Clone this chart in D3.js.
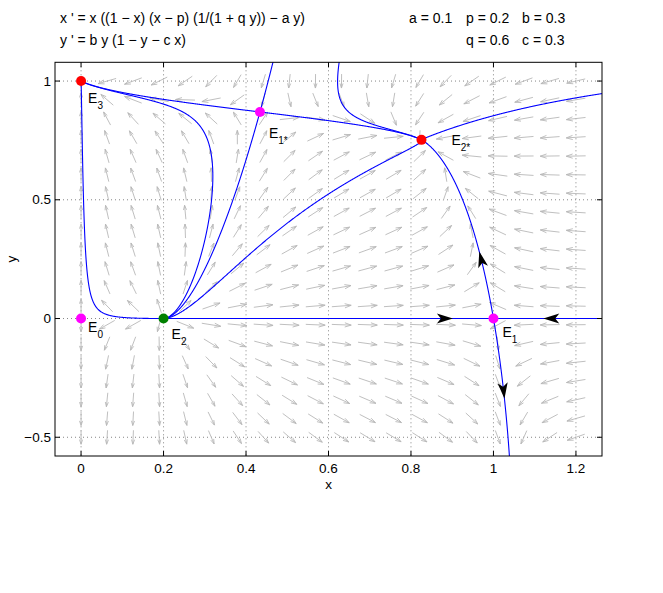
<!DOCTYPE html>
<html><head><meta charset="utf-8">
<script src="https://cdn.jsdelivr.net/npm/d3@7"></script>
<style>
body{margin:0;background:#fff;}
svg{display:block;}
text{font-family:"Liberation Sans",Arial,Helvetica,sans-serif;fill:#000;}
</style>
</head><body>
<svg id="chart" width="663" height="593"></svg>
<script>
// ---------------- data ----------------
const paramNames  = ["a", "p", "b", "q", "c"];
const paramValues = [0.1, 0.2, 0.3, 0.6, 0.3];
const equationLines = ["x ' = x ((1 − x) (x − p) (1/(1 + q y)) − a y)", "y ' = b y (1 − y − c x)"];
const paramRow1 = ["a", "p", "b"];
const paramRow2 = ["q", "c"];
const xTicks = [0, 0.2, 0.4, 0.6, 0.8, 1, 1.2];
const yTicks = [-0.5, 0, 0.5, 1];
const fieldXRange = [0, 1.2];
const fieldYRange = [-0.5, 1];
const fieldCount = 20;
// equilibria
const eqNames = ["E3", "E1*", "E2*", "E0", "E2", "E1"];
const eqX     = [0, 0.4338, 0.8254, 0, 0.2, 1];
const eqY     = [1, 0.8699, 0.7524, 0, 0, 0];
const eqKind  = ["sink", "saddle", "sink", "saddle", "source", "saddle"];
// ordinary orbits (seed points)
const orbitSeedX = [0.006, 0.318, 0.531, 0.6265, 1.255];
const orbitSeedY = [0.5, 0.53, 0.442, 0.933, 0.945];
// saddles whose separatrices are drawn
const separatrixSaddles = ["E1*", "E1"];
// arrowheads on the separatrices of E1: branch, coordinate axis, value
const arrowBranch = ["stable-", "stable+", "unstable+", "unstable-"];
const arrowAxis   = ["x", "x", "y", "y"];
const arrowValue  = [0.882, 1.14, 0.25, -0.304];

// ---------------- layout ----------------
const W = 663, H = 593;
const frame = {left: 55, right: 602, top: 62.3, bottom: 456};
const labelOffset = {"E3": [7, 22], "E1*": [9, 26.5], "E2*": [30, 5], "E0": [7, 13.5], "E2": [8, 20], "E1": [9, 18]};
const kindColor = {sink: "#ff0000", saddle: "#ff00ff", source: "#008000"};

const P = {};
paramNames.forEach((n, i) => P[n] = paramValues[i]);
function F(x, y) {
  return [x * ((1 - x) * (x - P.p) / (1 + P.q * y) - P.a * y), P.b * y * (1 - y - P.c * x)];
}

const dx = (fieldXRange[1] - fieldXRange[0]) / (fieldCount - 1);
const dy = (fieldYRange[1] - fieldYRange[0]) / (fieldCount - 1);
const xs = d3.scaleLinear().domain([fieldXRange[0] - dx, fieldXRange[1] + dx]).range([frame.left, frame.right]);
const ys = d3.scaleLinear().domain([fieldYRange[0] - dy, fieldYRange[1] + dy]).range([frame.bottom, frame.top]);
const kx = xs(1) - xs(0), ky = ys(0) - ys(1);

const svg = d3.select("#chart");
svg.append("rect").attr("width", W).attr("height", H).attr("fill", "#fff");

// title
const title = svg.append("g");
equationLines.forEach((t, i) => title.append("text").attr("x", 60).attr("y", 23 + i * 22).attr("font-size", 14).text(t));
const pcol = {"a": 409, "p": 466, "b": 522, "q": 466, "c": 522};
[paramRow1, paramRow2].forEach((row, i) => row.forEach(n => {
  title.append("text").attr("x", pcol[n]).attr("y", 23 + i * 22).attr("font-size", 14).text(n + " = " + P[n]);
}));

// clip
svg.append("clipPath").attr("id", "clip").append("rect")
  .attr("x", frame.left).attr("y", frame.top).attr("width", frame.right - frame.left).attr("height", frame.bottom - frame.top);

// grid
const grid = svg.append("g").attr("stroke", "#666").attr("stroke-width", 0.8).attr("stroke-dasharray", "1,3");
xTicks.forEach(t => grid.append("line").attr("x1", xs(t)).attr("x2", xs(t)).attr("y1", frame.top).attr("y2", frame.bottom));
yTicks.forEach(t => grid.append("line").attr("y1", ys(t)).attr("y2", ys(t)).attr("x1", frame.left).attr("x2", frame.right));

// direction field
const field = svg.append("g").attr("clip-path", "url(#clip)").attr("stroke", "#b8b8b8").attr("stroke-width", 0.9).attr("fill", "none");
const Lrel = 0.0355, Wd = xs.domain()[1] - xs.domain()[0], Hd = ys.domain()[1] - ys.domain()[0];
for (let i = 0; i < fieldCount; i++) for (let j = 0; j < fieldCount; j++) {
  const x = fieldXRange[0] + i * dx, y = fieldYRange[0] + j * dy;
  const [u, v] = F(x, y);
  const n = Math.hypot(u / Wd, v / Hd);
  if (n < 1e-10) continue;
  const U = Lrel * u * kx / n, V = -Lrel * v * ky / n;
  const cx = xs(x), cy = ys(y);
  const x0 = cx - U / 2, y0 = cy - V / 2, x1 = cx + U / 2, y1 = cy + V / 2;
  const al = 0.33, be = 0.33;
  const w1 = [x1 - al * (U - be * V), y1 - al * (V + be * U)];
  const w2 = [x1 - al * (U + be * V), y1 - al * (V - be * U)];
  field.append("path").attr("d", `M${x0},${y0}L${x1},${y1}M${w1[0]},${w1[1]}L${x1},${y1}L${w2[0]},${w2[1]}`);
}

// integration in pixel space
const eqPx = eqNames.map((n, i) => [xs(eqX[i]), ys(eqY[i])]);
function G(X, Y, dir) {
  const [u, v] = F(xs.invert(X), ys.invert(Y));
  const U = u * kx, V = -v * ky, n = Math.hypot(U, V);
  if (n < 1e-14) return [0, 0];
  return [dir * U / n, dir * V / n];
}
function trace(X0, Y0, dir) {
  const pts = [[X0, Y0]];
  let X = X0, Y = Y0, trav = 0;
  const h = 0.4;
  for (let i = 0; i < 25000; i++) {
    const k1 = G(X, Y, dir), k2 = G(X + h / 2 * k1[0], Y + h / 2 * k1[1], dir);
    const k3 = G(X + h / 2 * k2[0], Y + h / 2 * k2[1], dir), k4 = G(X + h * k3[0], Y + h * k3[1], dir);
    X += h / 6 * (k1[0] + 2 * k2[0] + 2 * k3[0] + k4[0]);
    Y += h / 6 * (k1[1] + 2 * k2[1] + 2 * k3[1] + k4[1]);
    pts.push([X, Y]); trav += h;
    if (X < frame.left - 3 || X > frame.right + 3 || Y < frame.top - 3 || Y > frame.bottom + 3) break;
    let hit = null;
    if (trav > 3) for (const e of eqPx) if (Math.hypot(X - e[0], Y - e[1]) < 0.6) { hit = e; break; }
    if (hit) { pts.push([hit[0], hit[1]]); break; }
  }
  return pts;
}
function jac(x, y) {
  const e = 1e-6, a1 = F(x + e, y), a2 = F(x - e, y), b1 = F(x, y + e), b2 = F(x, y - e);
  return [[(a1[0] - a2[0]) / (2 * e), (b1[0] - b2[0]) / (2 * e)], [(a1[1] - a2[1]) / (2 * e), (b1[1] - b2[1]) / (2 * e)]];
}
function eig(J) {
  const [[A, B], [C, D]] = J, tr = A + D, det = A * D - B * C, d = Math.sqrt(tr * tr / 4 - det);
  return [tr / 2 + d, tr / 2 - d].map(l => {
    let v = Math.abs(B) > 1e-12 ? [B, l - A] : (Math.abs(C) > 1e-12 ? [l - D, C] : (Math.abs(l - A) < 1e-12 ? [1, 0] : [0, 1]));
    const P2 = [v[0] * kx, -v[1] * ky], n = Math.hypot(P2[0], P2[1]);
    return {l, v: [P2[0] / n, P2[1] / n]};
  });
}

const curves = [];
orbitSeedX.forEach((sx, i) => {
  const X = xs(sx), Y = ys(orbitSeedY[i]);
  const bwd = trace(X, Y, -1).reverse(), fwd = trace(X, Y, 1);
  curves.push(bwd.concat(fwd.slice(1)));
});
const branches = {};
separatrixSaddles.forEach(name => {
  const k = eqNames.indexOf(name);
  const [ex, ey] = eqPx[k];
  const es = eig(jac(eqX[k], eqY[k]));
  es.forEach(({l, v}) => {
    const dir = l > 0 ? 1 : -1;
    [1, -1].forEach(sg => {
      let vx = v[0] * sg, vy = v[1] * sg;
      const s = (Math.abs(vx) > Math.abs(vy)) ? (vx > 0 ? "+" : "-") : (vy < 0 ? "+" : "-");
      let pts = trace(ex + vx, ey + vy, dir);
      pts.unshift([ex, ey]);
      if (dir < 0) pts = pts.reverse();
      curves.push(pts);
      branches[name + (l > 0 ? "unstable" : "stable") + s] = pts;
    });
  });
});

const line = d3.line();
svg.append("g").attr("clip-path", "url(#clip)").selectAll("path").data(curves).join("path")
  .attr("d", line).attr("fill", "none").attr("stroke", "#0000ff").attr("stroke-width", 1.1);

// arrowheads on E1 separatrices
const ah = svg.append("g").attr("clip-path", "url(#clip)");
arrowBranch.forEach((br, i) => {
  const pts = branches["E1" + br];
  if (!pts) return;
  const target = arrowAxis[i] === "x" ? xs(arrowValue[i]) : ys(arrowValue[i]);
  let best = 1, bd = Infinity;
  for (let j = 1; j < pts.length - 1; j++) {
    const d = Math.abs((arrowAxis[i] === "x" ? pts[j][0] : pts[j][1]) - target);
    if (d < bd) { bd = d; best = j; }
  }
  const a = pts[Math.max(0, best - 3)], b = pts[Math.min(pts.length - 1, best + 3)];
  const ang = Math.atan2(b[1] - a[1], b[0] - a[0]) * 180 / Math.PI;
  ah.append("path").attr("d", "M8,0L-8,-5L-4,0L-8,5Z").attr("fill", "#000")
    .attr("transform", `translate(${pts[best][0]},${pts[best][1]}) rotate(${ang})`);
});

// equilibria
const eqG = svg.append("g");
eqNames.forEach((n, i) => {
  eqG.append("circle").attr("cx", eqPx[i][0]).attr("cy", eqPx[i][1]).attr("r", 5).attr("fill", kindColor[eqKind[i]]);
  const off = labelOffset[n];
  const t = eqG.append("text").attr("x", eqPx[i][0] + off[0]).attr("y", eqPx[i][1] + off[1]).attr("font-size", 14);
  t.append("tspan").text(n[0]);
  t.append("tspan").attr("dy", 6).attr("font-size", 10).text(n.slice(1));
});

// axes frame and ticks
const ax = svg.append("g");
ax.append("rect").attr("x", frame.left).attr("y", frame.top).attr("width", frame.right - frame.left).attr("height", frame.bottom - frame.top)
  .attr("fill", "none").attr("stroke", "#000").attr("stroke-width", 1);
const tl = 5;
xTicks.forEach(t => {
  ax.append("line").attr("x1", xs(t)).attr("x2", xs(t)).attr("y1", frame.bottom).attr("y2", frame.bottom - tl).attr("stroke", "#000");
  ax.append("line").attr("x1", xs(t)).attr("x2", xs(t)).attr("y1", frame.top).attr("y2", frame.top + tl).attr("stroke", "#000");
  ax.append("text").attr("x", xs(t)).attr("y", frame.bottom + 16.5).attr("text-anchor", "middle").attr("font-size", 13.5).text(String(t));
});
yTicks.forEach(t => {
  ax.append("line").attr("y1", ys(t)).attr("y2", ys(t)).attr("x1", frame.left).attr("x2", frame.left + tl).attr("stroke", "#000");
  ax.append("line").attr("y1", ys(t)).attr("y2", ys(t)).attr("x1", frame.right).attr("x2", frame.right - tl).attr("stroke", "#000");
  ax.append("text").attr("x", frame.left - 4).attr("y", ys(t) + 4.5).attr("text-anchor", "end").attr("font-size", 13.5).text(String(t).replace("-", "−"));
});
ax.append("text").attr("x", (frame.left + frame.right) / 2).attr("y", 489).attr("text-anchor", "middle").attr("font-size", 13.5).text("x");
ax.append("text").attr("transform", `translate(16,${(frame.top + frame.bottom) / 2}) rotate(-90)`).attr("text-anchor", "middle").attr("font-size", 13.5).text("y");
</script>
</body></html>
